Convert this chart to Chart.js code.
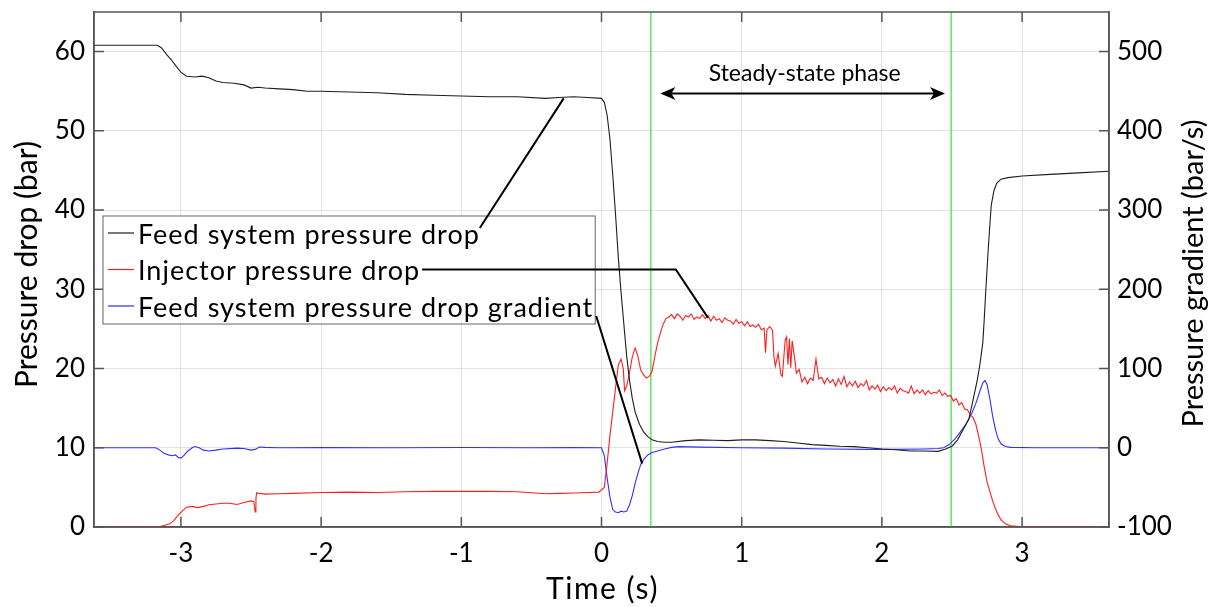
<!DOCTYPE html>
<html>
<head>
<meta charset="utf-8">
<script src="https://cdn.jsdelivr.net/npm/chart.js@4"></script>
<style>
  html, body { margin: 0; padding: 0; background: #fff; }
</style>
</head>
<body>
<canvas id="myChart" width="1219" height="607"></canvas>
<script>
var FONT = "Lato, 'DejaVu Sans', sans-serif";

// axis ticks
var timeTicks = [-3, -2, -1, 0, 1, 2, 3];
var dropTicks = [0, 10, 20, 30, 40, 50, 60];
var gradTicks = [-100, 0, 100, 200, 300, 400, 500];

// start / end of the steady-state phase (s)
var phaseLimits = [0.352, 2.494];

var seriesNames = [
  "Feed system pressure drop",
  "Injector pressure drop",
  "Feed system pressure drop gradient"
];
var seriesColors = ["#1e1e1e", "#ff1f1f", "#3030ff"];

// Feed system pressure drop (bar)
var feedTime = [-3.62, -3.3, -3.17, -3.14, -3.1, -3.07, -3.04, -3.0, -2.96, -2.9, -2.85, -2.8, -2.75, -2.7,
  -2.62, -2.55, -2.5, -2.45, -2.4, -2.3, -2.2, -2.1, -2.0, -1.8, -1.6, -1.4, -1.2, -1.0, -0.8, -0.6, -0.4,
  -0.3, -0.2, -0.1, 0.0, 0.02, 0.04, 0.06, 0.08, 0.1, 0.12, 0.14, 0.16, 0.18, 0.2, 0.22, 0.24, 0.27, 0.3,
  0.33, 0.36, 0.4, 0.45, 0.5, 0.6, 0.7, 0.8, 0.9, 1.0, 1.1, 1.2, 1.3, 1.4, 1.5, 1.6, 1.7, 1.8, 1.9, 2.0,
  2.1, 2.2, 2.3, 2.4, 2.45, 2.5, 2.54, 2.58, 2.62, 2.65, 2.68, 2.7, 2.72, 2.73, 2.74, 2.76, 2.78, 2.8, 2.82,
  2.85, 2.9, 3.0, 3.2, 3.4, 3.62];
var feedDrop = [60.8, 60.8, 60.8, 60.5, 59.6, 59.0, 58.3, 57.4, 56.9, 56.8, 56.9, 56.7, 56.3, 56.1,
  56.0, 55.8, 55.4, 55.5, 55.4, 55.3, 55.2, 55.0, 55.0, 54.9, 54.8, 54.6, 54.5, 54.4, 54.3, 54.3, 54.1,
  54.2, 54.3, 54.2, 54.1, 53.6, 52.0, 49.0, 44.5, 39.5, 34.0, 29.5, 25.5, 21.5, 18.5, 16.2, 14.5, 13.0, 12.0,
  11.4, 11.0, 10.8, 10.7, 10.7, 10.9, 11.0, 10.95, 10.9, 11.0, 11.0, 10.9, 10.8, 10.6, 10.4, 10.3, 10.2, 10.15, 10.0, 9.85,
  9.75, 9.6, 9.6, 9.55, 9.8, 10.2, 11.0, 12.3, 13.6, 16.0, 18.5, 20.6, 23.3, 26.2, 29.5, 35.5, 40.6, 42.5, 43.4,
  43.9, 44.1, 44.3, 44.5, 44.7, 44.9];

// Injector pressure drop (bar)
var injTime = [-3.62, -3.3, -3.15, -3.12, -3.08, -3.05, -3.02, -2.99, -2.96, -2.92, -2.88, -2.84, -2.8, -2.75,
  -2.7, -2.65, -2.6, -2.55, -2.5, -2.48, -2.47, -2.465, -2.46, -2.4, -2.3, -2.2, -2.0, -1.8, -1.6, -1.4,
  -1.2, -1.0, -0.8, -0.6, -0.4, -0.3, -0.2, -0.1, -0.02, 0.02, 0.04, 0.06, 0.08, 0.1, 0.12, 0.14, 0.155,
  0.165, 0.18, 0.2, 0.22, 0.24, 0.26, 0.28, 0.3, 0.32, 0.34, 0.36, 0.38, 0.4, 0.42, 0.44, 0.46, 0.48, 0.5,
  0.52, 0.54, 0.56, 0.58, 0.6, 0.62, 0.64, 0.66, 0.68, 0.7, 0.72, 0.74, 0.76, 0.78, 0.8, 0.82, 0.84, 0.86,
  0.88, 0.9, 0.92, 0.94, 0.96, 0.98, 1.0, 1.02, 1.04, 1.06, 1.08, 1.1, 1.12, 1.14, 1.16, 1.17, 1.18, 1.2,
  1.22, 1.23, 1.24, 1.26, 1.28, 1.29, 1.31, 1.32, 1.33, 1.34, 1.35, 1.36, 1.38, 1.39, 1.41, 1.43, 1.45,
  1.47, 1.49, 1.51, 1.53, 1.55, 1.57, 1.59, 1.61, 1.63, 1.65, 1.67, 1.69, 1.71, 1.73, 1.75, 1.77, 1.79,
  1.81, 1.83, 1.85, 1.87, 1.89, 1.91, 1.93, 1.95, 1.97, 1.99, 2.01, 2.03, 2.05, 2.07, 2.09, 2.11, 2.13,
  2.15, 2.17, 2.19, 2.21, 2.23, 2.25, 2.27, 2.29, 2.31, 2.33, 2.35, 2.37, 2.39, 2.41, 2.43, 2.45, 2.47,
  2.49, 2.51, 2.53, 2.55, 2.57, 2.59, 2.61, 2.63, 2.65, 2.67, 2.69, 2.71, 2.73, 2.75, 2.77, 2.79, 2.81,
  2.83, 2.85, 2.88, 2.92, 2.98, 3.1, 3.62];
var injDrop = [0.0, 0.0, 0.05, 0.2, 0.4, 0.8, 1.5, 2.0, 2.5, 2.6, 2.45, 2.6, 2.8, 2.9,
  3.0, 3.0, 2.85, 3.1, 3.3, 3.2, 1.9, 3.6, 4.3, 4.15, 4.2, 4.25, 4.35, 4.4, 4.35, 4.45,
  4.5, 4.5, 4.5, 4.45, 4.2, 4.25, 4.3, 4.35, 4.4, 5.0, 8.0, 11.5, 14.5, 17.5, 20.5, 21.2, 20.0,
  17.2, 17.8, 19.5, 21.5, 22.6, 21.5, 19.8, 19.2, 18.8, 19.0, 19.6, 21.5, 23.2, 24.5, 25.6, 26.3, 26.5, 26.8,
  26.3, 26.9, 26.6, 26.1, 26.7, 26.5, 26.9, 26.2, 26.5, 26.3, 26.8, 26.3, 26.7, 26.0, 26.6, 26.1, 26.3, 25.8,
  26.4, 26.1, 26.0, 25.6, 26.2, 25.7, 25.9, 25.4, 25.9, 25.3, 25.5, 25.2, 25.6, 24.9, 25.1, 22.0, 24.9, 25.3,
  24.8, 21.5, 20.3, 21.9, 19.2, 19.0, 23.6, 24.0, 20.5, 23.8, 20.1, 23.5, 21.0, 19.4, 19.9, 18.3, 18.9,
  18.1, 18.8, 18.5, 21.2, 18.7, 18.9, 18.1, 18.8, 18.2, 18.6, 17.8, 18.7, 18.0, 19.0, 17.7, 18.3, 17.8,
  18.4, 17.6, 18.1, 17.8, 18.5, 17.3, 17.8, 17.4, 17.9, 17.1, 17.7, 17.2, 17.6, 17.3, 17.8, 16.9, 17.5,
  17.2, 17.1, 16.9, 17.8, 16.8, 17.3, 16.9, 17.3, 16.7, 17.2, 16.8, 17.0, 16.9, 17.3, 16.6, 16.9, 16.5,
  16.6, 15.9, 16.2, 15.4, 15.7, 14.9, 14.8, 14.2, 13.8, 13.0, 11.5, 9.8, 7.6, 5.7, 4.5, 3.3, 2.3,
  1.5, 0.9, 0.4, 0.15, 0.05, 0.0, 0.0];

// Feed system pressure drop gradient (bar/s)
var gradTime = [-3.62, -3.3, -3.18, -3.15, -3.12, -3.09, -3.06, -3.04, -3.02, -3.0, -2.98, -2.95, -2.92, -2.9,
  -2.87, -2.84, -2.8, -2.75, -2.7, -2.6, -2.55, -2.5, -2.47, -2.44, -2.4, -2.3, -2.0, -1.5, -1.0, -0.5,
  -0.2, 0.0, 0.02, 0.04, 0.06, 0.08, 0.1, 0.12, 0.14, 0.16, 0.18, 0.2, 0.22, 0.24, 0.26, 0.28, 0.3, 0.33,
  0.36, 0.4, 0.45, 0.5, 0.55, 0.7, 1.0, 1.3, 1.6, 1.9, 2.1, 2.3, 2.4, 2.44, 2.48, 2.52, 2.56, 2.6, 2.64,
  2.67, 2.7, 2.72, 2.735, 2.75, 2.77, 2.79, 2.81, 2.83, 2.85, 2.88, 2.92, 3.1, 3.62];
var gradValue = [0, 0, 0, -3, -7, -9, -10, -9, -12, -13, -10, -4, 0, 1.5,
  0, -3, -4, -3, -1.5, -0.5, -1, -3, -2, 1, 0.5, 0, 0.2, 0, 0.3, 0,
  0.2, 0, -10, -38, -62, -78, -81, -82, -80, -81, -80, -72, -60, -45, -32, -21, -15, -9,
  -6, -4, -1.5, 0.5, 1.5, 0.8, 0, -0.5, -1.5, -2, -2, -1.5, -1, 0, 4, 11, 20, 30, 43,
  56, 72, 82, 85, 80, 62, 40, 23, 11, 5, 1.5, 0.5, 0, 0];

function pairs(xs, ys) {
  return xs.map(function (x, i) { return { x: x, y: ys[i] }; });
}
function tickList(values) {
  return values.map(function (v) { return { value: v }; });
}
function noAxisPadding(s) {
  s.paddingTop = 0; s.paddingBottom = 0; s.paddingLeft = 0; s.paddingRight = 0;
}

var overlay = {
  id: "overlay",
  beforeDatasetsDraw: function (chart) {
    var ctx = chart.ctx, a = chart.chartArea, sx = chart.scales.x;
    ctx.save();
    ctx.strokeStyle = "#5de65d";
    ctx.lineWidth = 1.5;
    phaseLimits.forEach(function (t) {
      var px = sx.getPixelForValue(t);
      ctx.beginPath();
      ctx.moveTo(px, a.top);
      ctx.lineTo(px, a.bottom);
      ctx.stroke();
    });
    ctx.restore();
  },
  afterDatasetsDraw: function (chart) {
    var ctx = chart.ctx, a = chart.chartArea;
    var sx = chart.scales.x, sy = chart.scales.y, sy2 = chart.scales.y2;
    ctx.save();

    // box + inward tick marks
    ctx.strokeStyle = "#555";
    ctx.lineWidth = 1.5;
    ctx.strokeRect(a.left, a.top, a.right - a.left, a.bottom - a.top);
    ctx.beginPath();
    timeTicks.forEach(function (t) {
      var px = sx.getPixelForValue(t);
      ctx.moveTo(px, a.bottom); ctx.lineTo(px, a.bottom - 10);
      ctx.moveTo(px, a.top); ctx.lineTo(px, a.top + 10);
    });
    dropTicks.forEach(function (v) {
      var py = sy.getPixelForValue(v);
      ctx.moveTo(a.left, py); ctx.lineTo(a.left + 10, py);
    });
    gradTicks.forEach(function (v) {
      var py = sy2.getPixelForValue(v);
      ctx.moveTo(a.right, py); ctx.lineTo(a.right - 10, py);
    });
    ctx.stroke();

    // steady-state arrow
    var ay = sy.getPixelForValue(54.7);
    var ax1 = sx.getPixelForValue(0.42), ax2 = sx.getPixelForValue(2.45);
    ctx.strokeStyle = "#000";
    ctx.fillStyle = "#000";
    ctx.lineWidth = 2;
    ctx.beginPath();
    ctx.moveTo(ax1 + 8, ay); ctx.lineTo(ax2 - 8, ay);
    ctx.stroke();
    ctx.beginPath();
    ctx.moveTo(ax1, ay); ctx.lineTo(ax1 + 15, ay - 6.5); ctx.lineTo(ax1 + 11, ay); ctx.lineTo(ax1 + 15, ay + 6.5); ctx.closePath();
    ctx.moveTo(ax2, ay); ctx.lineTo(ax2 - 15, ay - 6.5); ctx.lineTo(ax2 - 11, ay); ctx.lineTo(ax2 - 15, ay + 6.5); ctx.closePath();
    ctx.fill();
    ctx.font = "23px " + FONT;
    ctx.textAlign = "center";
    ctx.textBaseline = "middle";
    ctx.fillText("Steady-state phase", (ax1 + ax2) / 2 + 2, ay - 20);

    // legend
    ctx.font = "27px " + FONT;
    ctx.letterSpacing = "1px";
    var widths = seriesNames.map(function (s) { return ctx.measureText(s).width; });
    var bx = a.left + 9, by = 216, bh = 108;
    var tx = bx + 35;
    var bw = tx + Math.max.apply(null, widths) + 2 - bx;
    ctx.fillStyle = "#fff";
    ctx.fillRect(bx, by, bw, bh);
    ctx.strokeStyle = "#666";
    ctx.lineWidth = 1;
    ctx.strokeRect(bx, by, bw, bh);
    ctx.textAlign = "left";
    ctx.textBaseline = "middle";
    var rows = [];
    seriesNames.forEach(function (s, i) {
      var ry = by + 17 + i * 36.5;
      rows.push(ry);
      ctx.strokeStyle = seriesColors[i];
      ctx.lineWidth = 1.2;
      ctx.beginPath();
      ctx.moveTo(bx + 5, ry); ctx.lineTo(bx + 31, ry);
      ctx.stroke();
      ctx.fillStyle = "#000";
      ctx.fillText(s, tx, ry + 2);
    });

    // callout lines
    ctx.strokeStyle = "#000";
    ctx.lineWidth = 2;
    ctx.beginPath();
    ctx.moveTo(tx + widths[0], rows[0] - 5);
    ctx.lineTo(sx.getPixelForValue(-0.27), sy.getPixelForValue(54.1));
    ctx.moveTo(tx + widths[1] + 2, rows[1]);
    ctx.lineTo(sx.getPixelForValue(0.53), rows[1]);
    ctx.lineTo(sx.getPixelForValue(0.76), sy.getPixelForValue(26.4));
    ctx.moveTo(bx + bw + 1, rows[2] + 10);
    ctx.lineTo(sx.getPixelForValue(0.29), sy2.getPixelForValue(-20));
    ctx.stroke();
    ctx.restore();
  },
  afterDraw: function (chart) {
    var ctx = chart.ctx, a = chart.chartArea;
    var midY = (a.top + a.bottom) / 2;
    ctx.save();
    ctx.fillStyle = "#000";
    ctx.textAlign = "center";
    ctx.textBaseline = "middle";

    ctx.font = "30px " + FONT;
    ctx.letterSpacing = "1.5px";
    ctx.fillText("Time (s)", (a.left + a.right) / 2 + 1, 589);
    ctx.letterSpacing = "0px";

    ctx.save();
    ctx.translate(27, midY - 5);
    ctx.rotate(-Math.PI / 2);
    ctx.font = "30px " + FONT;
    ctx.fillText("Pressure drop (bar)", 0, 0);
    ctx.restore();

    ctx.translate(1194, midY + 4);
    ctx.rotate(-Math.PI / 2);
    ctx.font = "29px " + FONT;
    ctx.fillText("Pressure gradient (bar/s)", 0, 0);
    ctx.restore();
  }
};

var ctx = document.getElementById("myChart").getContext("2d");
var chart = new Chart(ctx, {
  type: "line",
  data: {
    datasets: [
      { label: seriesNames[0], data: pairs(feedTime, feedDrop), borderColor: seriesColors[0], borderWidth: 1.1, pointRadius: 0, yAxisID: "y" },
      { label: seriesNames[1], data: pairs(injTime, injDrop), borderColor: seriesColors[1], borderWidth: 1.1, pointRadius: 0, yAxisID: "y" },
      { label: seriesNames[2], data: pairs(gradTime, gradValue), borderColor: seriesColors[2], borderWidth: 1.1, pointRadius: 0, yAxisID: "y2" }
    ]
  },
  options: {
    responsive: false,
    animation: false,
    layout: { padding: { top: 12, left: 0, right: 0, bottom: 0 } },
    plugins: { legend: { display: false }, tooltip: { enabled: false } },
    scales: {
      x: {
        type: "linear", min: -3.62, max: 3.62,
        afterBuildTicks: function (s) { s.ticks = tickList(timeTicks); },
        afterFit: function (s) { s.height = 80; noAxisPadding(s); },
        ticks: { font: { family: FONT, size: 26 }, color: "#000", padding: 11, maxRotation: 0 },
        grid: { color: "#e2e2e2", drawTicks: false },
        border: { color: "#555", width: 1.5 }
      },
      y: {
        position: "left", min: 0, max: 65,
        afterBuildTicks: function (s) { s.ticks = tickList(dropTicks); },
        afterFit: function (s) { s.width = 94; noAxisPadding(s); },
        ticks: { font: { family: FONT, size: 26 }, color: "#000", padding: 9 },
        grid: { color: "#e2e2e2", drawTicks: false },
        border: { color: "#555", width: 1.5 }
      },
      y2: {
        position: "right", min: -100, max: 550,
        afterBuildTicks: function (s) { s.ticks = tickList(gradTicks); },
        afterFit: function (s) { s.width = 110; noAxisPadding(s); },
        ticks: { font: { family: FONT, size: 26 }, color: "#000", padding: 8 },
        grid: { drawOnChartArea: false, drawTicks: false },
        border: { color: "#555", width: 1.5 }
      }
    }
  },
  plugins: [overlay]
});
</script>
</body>
</html>
